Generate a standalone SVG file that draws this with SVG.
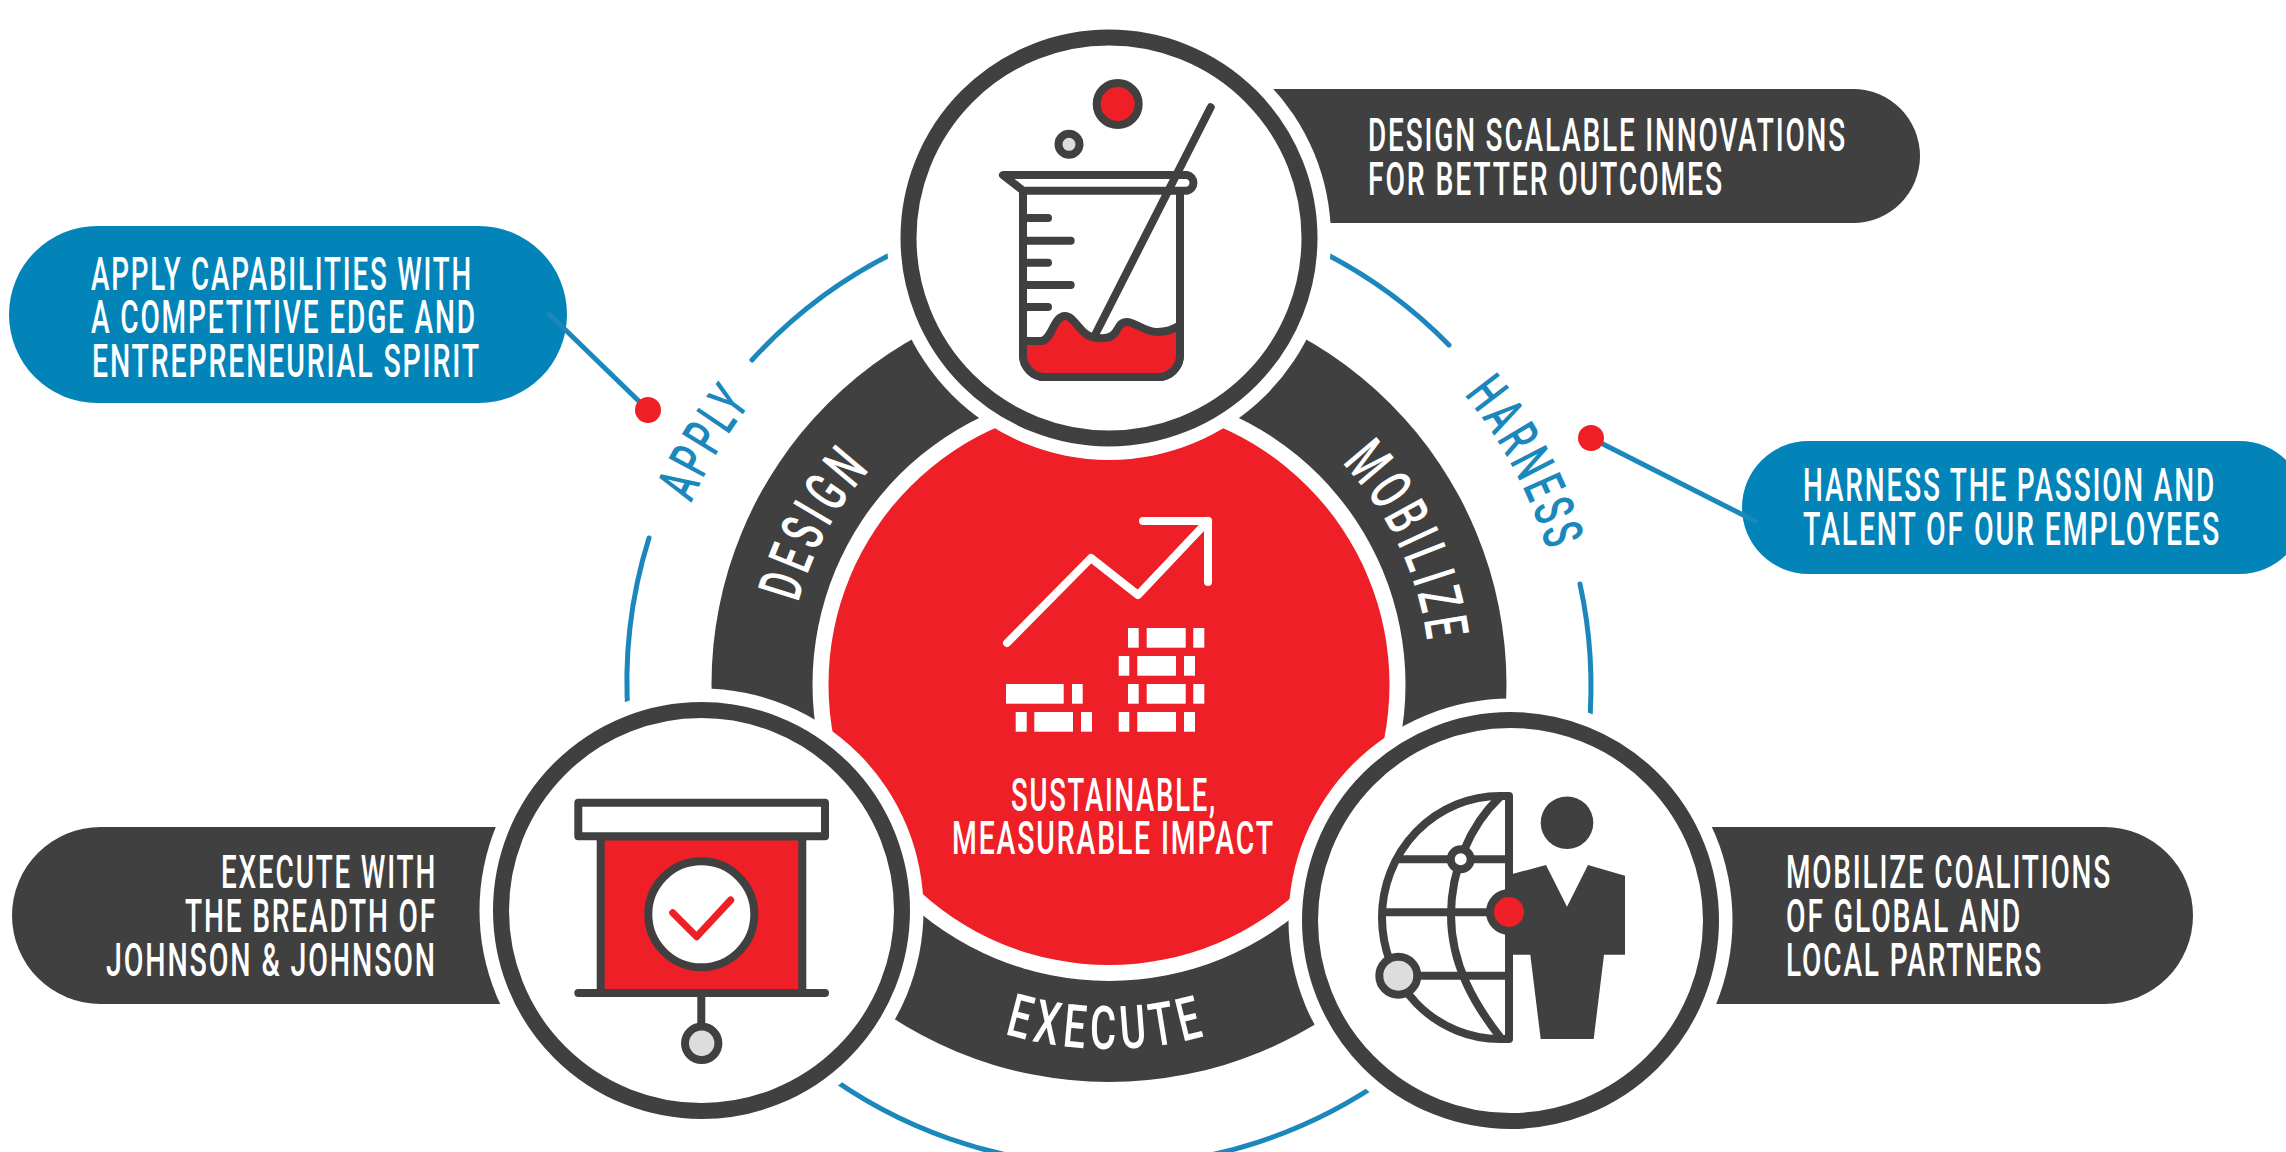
<svg xmlns="http://www.w3.org/2000/svg" width="2286" height="1152" viewBox="0 0 2286 1152">
<style>
.t{font-family:Roboto,"Liberation Sans",sans-serif;font-size:46px;font-weight:500;fill:#fff;letter-spacing:3px}
.c{font-family:Roboto,"Liberation Sans",sans-serif;font-size:60px;font-weight:500;fill:#fff;letter-spacing:8px}
.b{font-family:Roboto,"Liberation Sans",sans-serif;font-size:56px;font-weight:500;fill:#1a87bd;letter-spacing:6px}
.dark{fill:#404040}.blue{fill:#0284b9}.red{fill:#ee1f26}.halo{fill:#fff}
.ring{fill:#fff;stroke:#404040;stroke-width:16}
.arc{fill:none;stroke:#1a87bd;stroke-width:5;stroke-linecap:round}
.lead{fill:none;stroke:#1a87bd;stroke-width:5}
.ln{fill:none;stroke:#404040;stroke-width:8;stroke-linecap:round;stroke-linejoin:round}
.lw{fill:#fff;stroke:#404040;stroke-width:8;stroke-linecap:round;stroke-linejoin:round}
.lr{fill:#ee1f26;stroke:#404040;stroke-width:8;stroke-linejoin:round}
.lg{fill:#dcddde;stroke:#404040;stroke-width:8}
.up{fill:none;stroke:#fff;stroke-width:8;stroke-linecap:round;stroke-linejoin:round}
</style>
<defs>
<path id="pDesign" d="M788,684A321,321 0 0 1 1109,363"/>
<path id="pMobilize" d="M1109,363A321,321 0 0 1 1430,684"/>
<path id="pExecute" d="M744,684A365,365 0 0 0 1474,684"/>
<path id="pApply" d="M654,684A455,455 0 0 1 1109,229"/>
<path id="pHarness" d="M1109,226A458,458 0 0 1 1567,684"/>
</defs>
<rect width="2286" height="1152" fill="#fff"/>

<g id="callout-apply">
<rect class="blue" x="9" y="226" width="558" height="177" rx="88" ry="88.5"/>
<text class="t" x="91" y="290" textLength="382" lengthAdjust="spacingAndGlyphs">APPLY CAPABILITIES WITH</text>
<text class="t" x="91" y="333" textLength="386" lengthAdjust="spacingAndGlyphs">A COMPETITIVE EDGE AND</text>
<text class="t" x="92" y="377" textLength="389" lengthAdjust="spacingAndGlyphs">ENTREPRENEURIAL SPIRIT</text>
</g>
<g id="callout-design">
<rect class="dark" x="1150" y="89" width="770" height="134" rx="67"/>
<text class="t" x="1368" y="151" textLength="479" lengthAdjust="spacingAndGlyphs">DESIGN SCALABLE INNOVATIONS</text>
<text class="t" x="1368" y="195" textLength="356" lengthAdjust="spacingAndGlyphs">FOR BETTER OUTCOMES</text>
</g>
<g id="callout-harness">
<rect class="blue" x="1742" y="441" width="564" height="133" rx="66.5"/>
<text class="t" x="1803" y="501" textLength="413" lengthAdjust="spacingAndGlyphs">HARNESS THE PASSION AND</text>
<text class="t" x="1803" y="545" textLength="418" lengthAdjust="spacingAndGlyphs">TALENT OF OUR EMPLOYEES</text>
</g>
<g id="callout-execute">
<rect class="dark" x="12" y="827" width="640" height="177" rx="88.5"/>
<text class="t" x="221" y="888" textLength="216" lengthAdjust="spacingAndGlyphs">EXECUTE WITH</text>
<text class="t" x="185" y="932" textLength="252" lengthAdjust="spacingAndGlyphs">THE BREADTH OF</text>
<text class="t" x="106" y="976" textLength="331" lengthAdjust="spacingAndGlyphs">JOHNSON &amp; JOHNSON</text>
</g>
<g id="callout-mobilize">
<rect class="dark" x="1560" y="827" width="633" height="177" rx="88.5"/>
<text class="t" x="1786" y="888" textLength="326" lengthAdjust="spacingAndGlyphs">MOBILIZE COALITIONS</text>
<text class="t" x="1786" y="932" textLength="236" lengthAdjust="spacingAndGlyphs">OF GLOBAL AND</text>
<text class="t" x="1786" y="976" textLength="257" lengthAdjust="spacingAndGlyphs">LOCAL PARTNERS</text>
</g>

<g id="connectors">
<path class="arc" d="M904,248A482,482 0 0 0 752,360"/>
<path class="arc" d="M649,538A482,482 0 0 0 628.4,720"/>
<path class="arc" d="M819,1069A482,482 0 0 0 1389,1076"/>
<path class="arc" d="M1580,584A482,482 0 0 1 1589,730"/>
<path class="arc" d="M1314,248A482,482 0 0 1 1449,345"/>
<path class="lead" d="M548,313L648,410"/>
<path class="lead" d="M1591,438L1757,522"/>
<circle class="red" cx="648" cy="410" r="13"/>
<circle class="red" cx="1591" cy="438" r="13"/>
<text class="b"><textPath href="#pApply" startOffset="186" textLength="119" lengthAdjust="spacingAndGlyphs">APPLY</textPath></text>
<text class="b"><textPath href="#pHarness" startOffset="406" textLength="181" lengthAdjust="spacingAndGlyphs">HARNESS</textPath></text>
</g>

<g id="center">
<circle class="dark" cx="1109" cy="684.5" r="397.5"/>
<circle class="halo" cx="1109" cy="684.5" r="296.5"/>
<circle class="red" cx="1109" cy="684.5" r="280.5"/>
<text class="c"><textPath href="#pDesign" startOffset="82" textLength="157" lengthAdjust="spacingAndGlyphs">DESIGN</textPath></text>
<text class="c"><textPath href="#pMobilize" startOffset="260" textLength="205" lengthAdjust="spacingAndGlyphs">MOBILIZE</textPath></text>
<text class="c"><textPath href="#pExecute" startOffset="467" textLength="208" lengthAdjust="spacingAndGlyphs">EXECUTE</textPath></text>
<path class="up" d="M1007,643L1091,558L1138,595L1208,521"/>
<path class="up" d="M1143,521H1208V582"/>
<g fill="#fff">
<rect x="1128" y="628" width="10.7" height="19.7"/><rect x="1146.7" y="628" width="39" height="19.7"/><rect x="1193.3" y="628" width="11" height="19.7"/>
<rect x="1118.7" y="656" width="10.6" height="19.7"/><rect x="1137.3" y="656" width="38.7" height="19.7"/><rect x="1184" y="656" width="11" height="19.7"/>
<rect x="1128" y="684" width="10.7" height="19.7"/><rect x="1146.7" y="684" width="39" height="19.7"/><rect x="1193.3" y="684" width="11" height="19.7"/>
<rect x="1118.7" y="712" width="10.6" height="19.7"/><rect x="1137.3" y="712" width="38.7" height="19.7"/><rect x="1184" y="712" width="11" height="19.7"/>
<rect x="1006" y="684" width="57.7" height="19.7"/><rect x="1072" y="684" width="10.7" height="19.7"/>
<rect x="1015.7" y="712" width="11" height="19.7"/><rect x="1034.3" y="712" width="38.7" height="19.7"/><rect x="1081" y="712" width="11" height="19.7"/>
</g>
<text class="t" x="1011" y="811" textLength="206" lengthAdjust="spacingAndGlyphs">SUSTAINABLE,</text>
<text class="t" x="952" y="854" textLength="323" lengthAdjust="spacingAndGlyphs">MEASURABLE IMPACT</text>
</g>

<g id="node-design">
<circle class="halo" cx="1109" cy="238" r="222"/>
<circle class="ring" cx="1109" cy="238" r="200.5"/>
<circle class="lr" cx="1117.7" cy="104" r="21"/>
<circle class="lg" cx="1069" cy="144.3" r="10.5"/>
<path class="lw" d="M1023,190.7V355a22,22 0 0 0 22,22H1158a22,22 0 0 0 22,-22V190.7"/>
<path class="lw" d="M1003,175H1187a8,8 0 0 1 0,15.7H1023Z"/>
<path class="ln" d="M1023,218H1048M1023,240.7H1070.7M1023,262.7H1048M1023,285H1070.7M1023,307H1048"/>
<path class="lr" d="M1023,341H1041C1052,341 1053,316 1065,316C1076,316 1080,338 1098,338C1122,340 1114,322 1127,322C1135,322 1145,332 1157,332C1167,332 1173,330 1180,325V355a22,22 0 0 1 -22,22H1045a22,22 0 0 1 -22,-22Z"/>
<path class="ln" d="M1210.7,107.3L1095,335"/>
</g>

<g id="node-execute">
<circle class="halo" cx="701.5" cy="910.5" r="222"/>
<circle class="ring" cx="701.5" cy="910.5" r="200.5"/>
<rect class="lr" x="600.7" y="836.3" width="201.6" height="156.7"/>
<rect class="lw" x="578.3" y="802.7" width="246.7" height="33.6"/>
<path class="ln" d="M578.3,993H825M701.3,993V1025"/>
<circle class="lw" cx="701.3" cy="914.3" r="53"/>
<path fill="none" stroke="#ee1f26" stroke-width="7" stroke-linecap="round" stroke-linejoin="round" d="M672.7,912.7L696.7,936.7L730.7,900"/>
<circle class="lg" cx="701.7" cy="1043.3" r="16.7"/>
</g>

<g id="node-mobilize">
<circle class="halo" cx="1510.5" cy="920.5" r="222"/>
<circle class="ring" cx="1510.5" cy="920.5" r="200.5"/>
<circle class="dark" cx="1567" cy="822.7" r="26.3"/>
<path class="dark" d="M1512.3,874L1546,865L1567,906.7L1588,865L1625,875.7V954.7H1604L1593.7,1039H1540.7L1530.3,954.7H1512.3Z"/>
<path class="lw" d="M1509,796H1500A118,121.5 0 0 0 1500,1039H1509Z"/>
<path class="ln" d="M1500,797C1470,825 1451,870 1451,915C1451,965 1475,1005 1500,1037"/>
<path class="ln" d="M1399,859.3H1509M1383,912.3H1509M1398,975.7H1509"/>
<circle class="lw" cx="1460.7" cy="859.3" r="10"/>
<circle class="lr" cx="1509" cy="912" r="19"/>
<circle class="lg" cx="1398.3" cy="975.7" r="19"/>
</g>
</svg>
